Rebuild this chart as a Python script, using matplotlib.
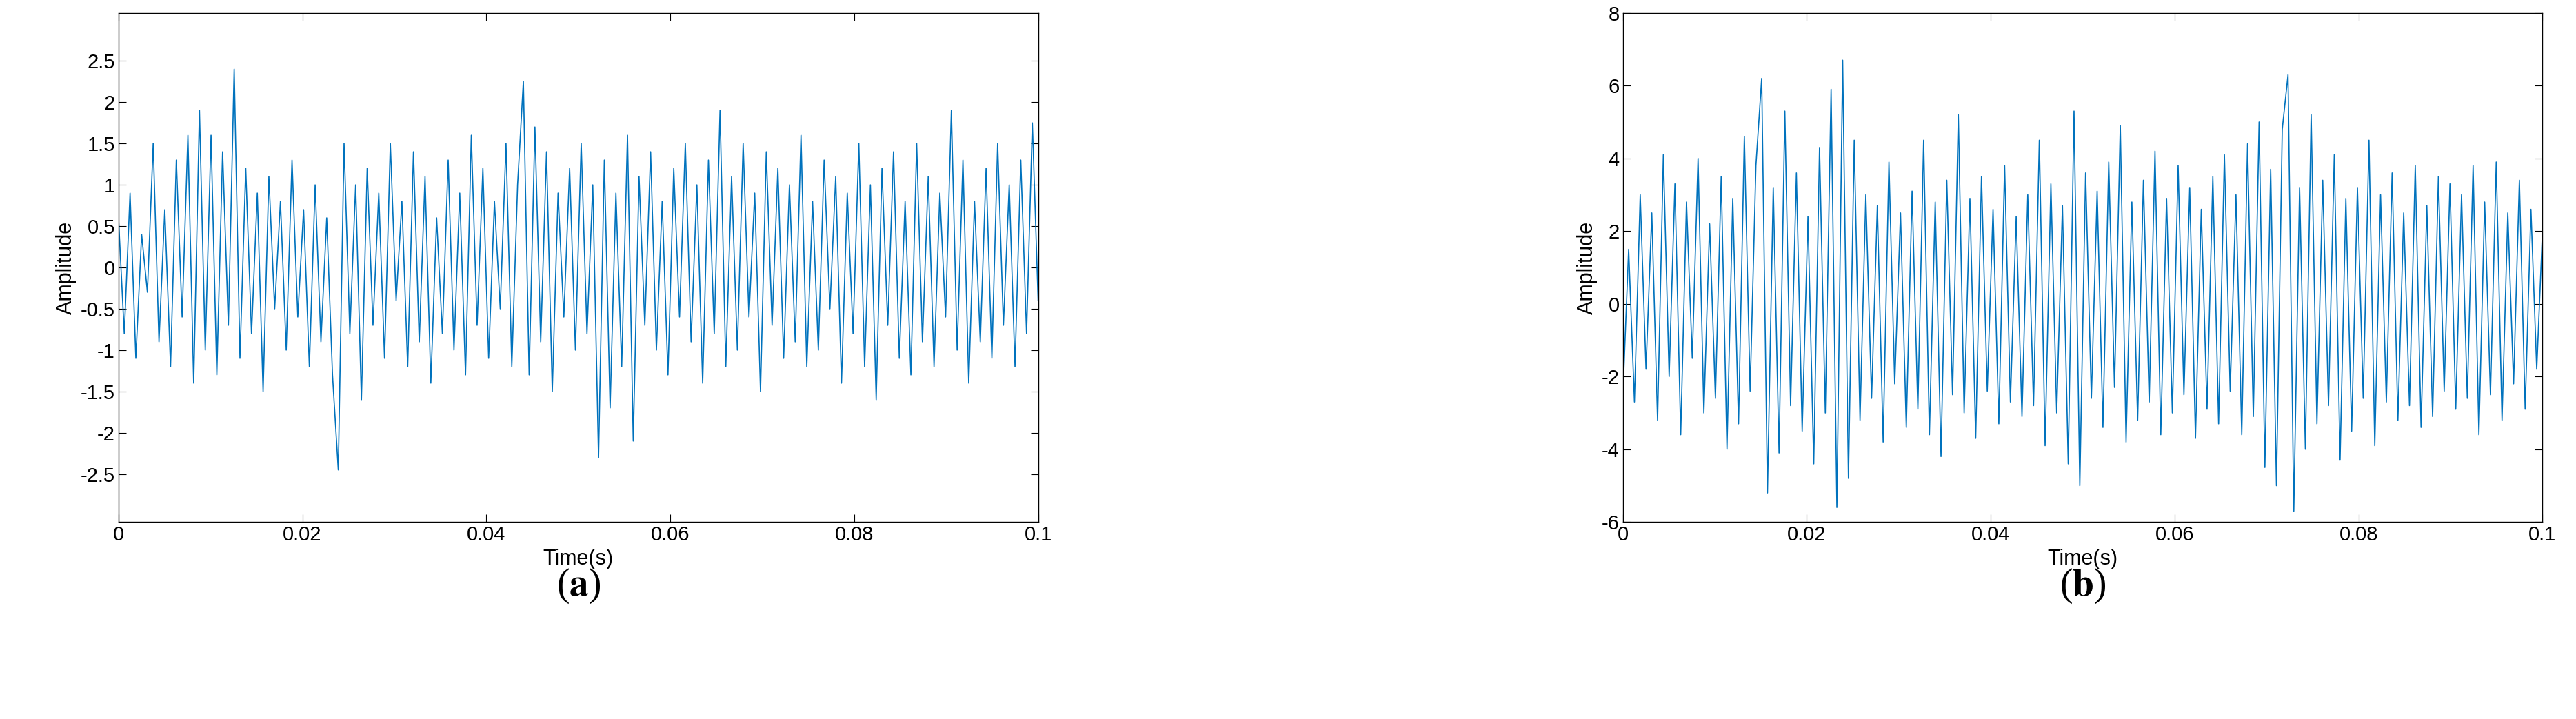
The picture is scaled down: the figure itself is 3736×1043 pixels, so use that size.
import numpy as np
import matplotlib.pyplot as plt

plt.rcParams['mathtext.fontset'] = 'stix'
plt.rcParams['font.family'] = ['Liberation Sans', 'DejaVu Sans']

# values (coarse sampling of the signals)
amp_a = [0.6, -0.8, 0.9, -1.1, 0.4, -0.3, 1.5, -0.9, 0.7, -1.2, 1.3, -0.6, 1.6, -1.4, 1.9, -1.0, 1.6, -1.3, 1.4, -0.7,
         2.4, -1.1, 1.2, -0.8, 0.9, -1.5, 1.1, -0.5, 0.8, -1.0, 1.3, -0.6, 0.7, -1.2, 1.0, -0.9, 0.6, -1.3, -2.45, 1.5,
         -0.8, 1.0, -1.6, 1.2, -0.7, 0.9, -1.1, 1.5, -0.4, 0.8, -1.2, 1.4, -0.9, 1.1, -1.4, 0.6, -0.8, 1.3, -1.0, 0.9,
         -1.3, 1.6, -0.7, 1.2, -1.1, 0.8, -0.5, 1.5, -1.2, 1.0, 2.25, -1.3, 1.7, -0.9, 1.4, -1.5, 0.9, -0.6, 1.2, -1.0,
         1.5, -0.8, 1.0, -2.3, 1.3, -1.7, 0.9, -1.2, 1.6, -2.1, 1.1, -0.7, 1.4, -1.0, 0.8, -1.3, 1.2, -0.6, 1.5, -0.9,
         1.0, -1.4, 1.3, -0.8, 1.9, -1.2, 1.1, -1.0, 1.5, -0.6, 0.9, -1.5, 1.4, -0.7, 1.2, -1.1, 1.0, -0.9, 1.6, -1.2,
         0.8, -1.0, 1.3, -0.5, 1.1, -1.4, 0.9, -0.8, 1.5, -1.2, 1.0, -1.6, 1.2, -0.7, 1.4, -1.1, 0.8, -1.3, 1.5, -0.9,
         1.1, -1.2, 0.9, -0.6, 1.9, -1.0, 1.3, -1.4, 0.8, -0.9, 1.2, -1.1, 1.5, -0.7, 1.0, -1.2, 1.3, -0.8, 1.75, -0.4]
amp_b = [-2.5, 1.5, -2.7, 3.0, -1.8, 2.5, -3.2, 4.1, -2.0, 3.3, -3.6, 2.8, -1.5, 4.0, -3.0, 2.2, -2.6, 3.5, -4.0, 2.9,
         -3.3, 4.6, -2.4, 3.8, 6.2, -5.2, 3.2, -4.1, 5.3, -2.8, 3.6, -3.5, 2.4, -4.4, 4.3, -3.0, 5.9, -5.6, 6.7, -4.8,
         4.5, -3.2, 3.0, -2.6, 2.7, -3.8, 3.9, -2.2, 2.5, -3.4, 3.1, -2.9, 4.5, -3.6, 2.8, -4.2, 3.4, -2.5, 5.2, -3.0,
         2.9, -3.7, 3.5, -2.4, 2.6, -3.3, 3.8, -2.7, 2.4, -3.1, 3.0, -2.8, 4.5, -3.9, 3.3, -3.0, 2.7, -4.4, 5.3, -5.0,
         3.6, -2.6, 3.1, -3.4, 3.9, -2.3, 4.9, -3.8, 2.8, -3.2, 3.4, -2.7, 4.2, -3.6, 2.9, -3.0, 3.8, -2.5, 3.2, -3.7,
         2.6, -2.9, 3.5, -3.3, 4.1, -2.4, 3.0, -3.6, 4.4, -3.1, 5.0, -4.5, 3.7, -5.0, 4.8, 6.3, -5.7, 3.2, -4.0, 5.2,
         -3.3, 3.4, -2.8, 4.1, -4.3, 2.9, -3.5, 3.2, -2.6, 4.5, -3.9, 3.0, -2.7, 3.6, -3.2, 2.5, -2.8, 3.8, -3.4, 2.7,
         -3.1, 3.5, -2.4, 3.3, -2.9, 3.0, -2.6, 3.8, -3.6, 2.8, -2.5, 3.9, -3.2, 2.5, -2.2, 3.4, -2.9, 2.6, -1.8, 2.0]
x_ticks = [0, 0.02, 0.04, 0.06, 0.08, 0.1]
x_labels = ['0', '0.02', '0.04', '0.06', '0.08', '0.1']
yticks_a = [-2.5, -2, -1.5, -1, -0.5, 0, 0.5, 1, 1.5, 2, 2.5]
yticks_b = [-6, -4, -2, 0, 2, 4, 6, 8]

fig = plt.figure(figsize=(37.36, 10.43), dpi=100)
ax1 = fig.add_axes([0.046, 0.274, 0.357, 0.708])
ax2 = fig.add_axes([0.630, 0.274, 0.357, 0.708])

for ax, y, yt, yl, cap in [(ax1, amp_a, yticks_a, (-3.08, 3.08), 'a'),
                          (ax2, amp_b, yticks_b, (-6, 8), 'b')]:
    t = np.linspace(0, 0.1, len(y))
    ax.plot(t, y, color='#0072BD', lw=1.2)
    ax.set_xlim(0, 0.1)
    ax.set_ylim(*yl)
    ax.set_xticks(x_ticks, x_labels)
    ax.set_yticks(yt, [f'{v:g}' for v in yt])
    ax.tick_params(direction='in', labelsize=21, length=8, top=True, right=True)
    ax.set_xlabel('Time(s)', fontsize=22, labelpad=4)
    ax.set_ylabel('Amplitude', fontsize=22)
    for s in ax.spines.values():
        s.set_linewidth(1.0)
    fig.text((ax.get_position().x0 + ax.get_position().x1) / 2, 0.185,
             r'($\mathbf{' + cap + '}$)', fontsize=40, family='Liberation Serif',
             ha='center', va='center')

fig.savefig('out.png', dpi=100)
